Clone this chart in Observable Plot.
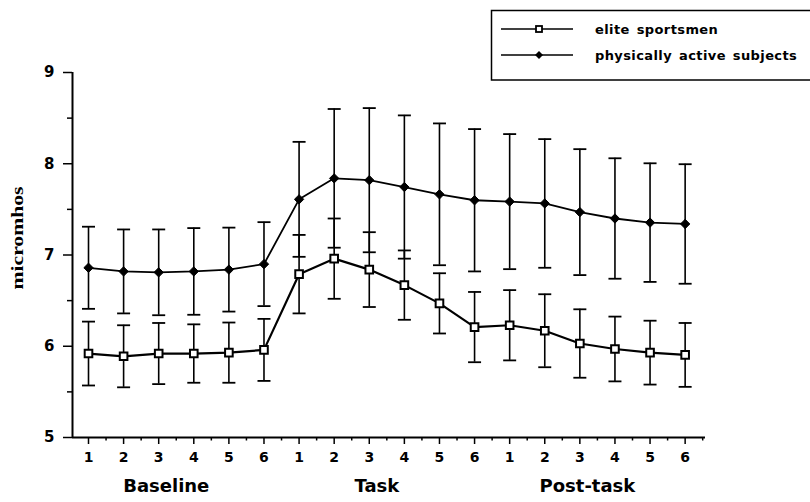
<!DOCTYPE html>
<html>
<head>
<meta charset="utf-8">
<script src="https://cdn.jsdelivr.net/npm/d3@7"></script>
<script src="https://cdn.jsdelivr.net/npm/@observablehq/plot@0.6"></script>
<style>
  html, body { margin: 0; padding: 0; background: #fff; }
  #chart svg { display: block; }
</style>
</head>
<body>
<div id="chart"></div>
<script>
// ---- data ----
const phases = ["Baseline", "Task", "Post-task"];
const steps = [1, 2, 3, 4, 5, 6];
const seriesNames = ["elite sportsmen", "physically active subjects"];

const eliteMean = [5.92, 5.89, 5.92, 5.92, 5.93, 5.96,
                   6.79, 6.96, 6.84, 6.67, 6.47, 6.21,
                   6.23, 6.17, 6.03, 5.97, 5.93, 5.905];
const eliteSD   = [0.35, 0.34, 0.335, 0.32, 0.33, 0.34,
                   0.43, 0.44, 0.41, 0.38, 0.33, 0.385,
                   0.385, 0.40, 0.375, 0.355, 0.35, 0.35];
const activeMean = [6.86, 6.82, 6.81, 6.82, 6.84, 6.90,
                    7.61, 7.84, 7.82, 7.745, 7.665, 7.60,
                    7.585, 7.565, 7.47, 7.40, 7.355, 7.34];
const activeSD   = [0.45, 0.46, 0.47, 0.475, 0.46, 0.46,
                    0.63, 0.76, 0.79, 0.785, 0.777, 0.78,
                    0.74, 0.705, 0.69, 0.66, 0.65, 0.655];
const yTicks = [5, 6, 7, 8, 9];
const yMinorTicks = [5.5, 6.5, 7.5, 8.5];
const yLabel = "micromhos";

// ---- build table ----
const rows = [];
phases.forEach((p, k) => steps.forEach((s, j) => {
  const idx = k * steps.length + j;
  rows.push({i: idx + 1, phase: p, step: s, series: seriesNames[0], mean: eliteMean[idx], sd: eliteSD[idx]});
  rows.push({i: idx + 1, phase: p, step: s, series: seriesNames[1], mean: activeMean[idx], sd: activeSD[idx]});
}));
const elite = rows.filter(d => d.series === seriesNames[0]);
const active = rows.filter(d => d.series === seriesNames[1]);
const nPts = phases.length * steps.length;
const xTicks = d3.range(1, nPts + 1);
const xMinor = d3.range(1.5, nPts + 1, 1);

const capSymbol = {
  draw(ctx, size) {
    const w = Math.sqrt(size / Math.PI);
    ctx.moveTo(-w, 0); ctx.lineTo(w, 0);
  }
};

const font = "DejaVu Sans, Verdana, sans-serif";

const chart = Plot.plot({
  width: 810,
  height: 502,
  marginLeft: 72,
  marginRight: 105,
  marginTop: 72,
  marginBottom: 65,
  style: {fontFamily: font, fontSize: "14px", fontWeight: "bold", background: "white", color: "black"},
  x: {type: "linear", domain: [0.544, 18.58], label: null},
  y: {domain: [5, 9], label: null},
  marks: [
    // minor ticks
    Plot.axisX({ticks: xMinor, tickSize: 3.5, tickFormat: () => "", strokeWidth: 1.5, label: null}),
    Plot.axisY({ticks: yMinorTicks, tickSize: 5, tickFormat: () => "", strokeWidth: 1.5, label: null}),
    // major axes
    Plot.axisX({ticks: xTicks, tickSize: 7, tickPadding: 7.5, strokeWidth: 1.5,
                tickFormat: d => steps[(d - 1) % steps.length], label: null}),
    Plot.axisY({ticks: yTicks, tickSize: 9, tickPadding: 9, strokeWidth: 1.5, label: null,
                tickFormat: d3.format("d"), fontSize: 15}),
    Plot.ruleX([0.544], {strokeWidth: 2}),
    Plot.ruleY([5], {strokeWidth: 2}),
    // error bars: active
    Plot.ruleX(active, {x: "i", y1: d => d.mean - d.sd, y2: d => d.mean + d.sd, strokeWidth: 1.6}),
    Plot.dot(active, {x: "i", y: d => d.mean + d.sd, symbol: capSymbol, r: 6.5, stroke: "black", strokeWidth: 1.8}),
    Plot.dot(active, {x: "i", y: d => d.mean - d.sd, symbol: capSymbol, r: 6.5, stroke: "black", strokeWidth: 1.8}),
    // error bars: elite
    Plot.ruleX(elite, {x: "i", y1: d => d.mean - d.sd, y2: d => d.mean + d.sd, strokeWidth: 1.6}),
    Plot.dot(elite, {x: "i", y: d => d.mean + d.sd, symbol: capSymbol, r: 6.5, stroke: "black", strokeWidth: 1.8}),
    Plot.dot(elite, {x: "i", y: d => d.mean - d.sd, symbol: capSymbol, r: 6.5, stroke: "black", strokeWidth: 1.8}),
    // lines
    Plot.line(active, {x: "i", y: "mean", strokeWidth: 1.8}),
    Plot.line(elite, {x: "i", y: "mean", strokeWidth: 2.2}),
    // markers
    Plot.dot(active, {x: "i", y: "mean", symbol: "diamond2", r: 4.2, fill: "black", stroke: "black", strokeWidth: 1}),
    Plot.dot(elite, {x: "i", y: "mean", symbol: "square", r: 4.3, fill: "white", stroke: "black", strokeWidth: 2}),
    // phase labels
    Plot.text(phases, {x: (d, k) => 3.5 + 6 * k, frameAnchor: "bottom", dy: 54, dx: (-10),
                       text: d => d, fontSize: 18, fontWeight: "bold"})
  ]
});

document.getElementById("chart").append(chart);
const svg = d3.select(chart);

// ---- y axis title ----
svg.append("text")
  .attr("transform", "translate(17,238) rotate(-90)")
  .attr("text-anchor", "middle")
  .attr("dy", "0.35em")
  .attr("font-family", "Liberation Serif, Times New Roman, serif")
  .attr("font-weight", "bold")
  .attr("font-size", 17)
  .attr("textLength", 103)
  .attr("lengthAdjust", "spacingAndGlyphs")
  .text(yLabel);

// ---- legend (drawn into the same svg) ----
const lg = svg.append("g").attr("font-family", font).attr("font-weight", "bold")
  .attr("font-size", 13).attr("text-anchor", "start");
lg.append("rect").attr("x", 491.5).attr("y", 10.5).attr("width", 330).attr("height", 69.5)
  .attr("fill", "white").attr("stroke", "black").attr("stroke-width", 1.5);
const legendRows = [
  {name: seriesNames[0], y: 29, sym: "square"},
  {name: seriesNames[1], y: 55, sym: "diamond"}
];
legendRows.forEach(r => {
  lg.append("line").attr("x1", 501).attr("x2", 573).attr("y1", r.y).attr("y2", r.y)
    .attr("stroke", "black").attr("stroke-width", 1.3);
  if (r.sym === "square") {
    lg.append("rect").attr("x", 536).attr("y", r.y - 3).attr("width", 6).attr("height", 6)
      .attr("fill", "white").attr("stroke", "black").attr("stroke-width", 1.8);
  } else {
    lg.append("path").attr("d", `M539,${r.y - 4}L543,${r.y}L539,${r.y + 4}L535,${r.y}Z`).attr("fill", "black");
  }
  lg.append("text").attr("x", 595).attr("y", r.y).attr("dy", "0.35em")
    .attr("letter-spacing", 0.4).attr("word-spacing", 2).text(r.name);
});
</script>
</body>
</html>
